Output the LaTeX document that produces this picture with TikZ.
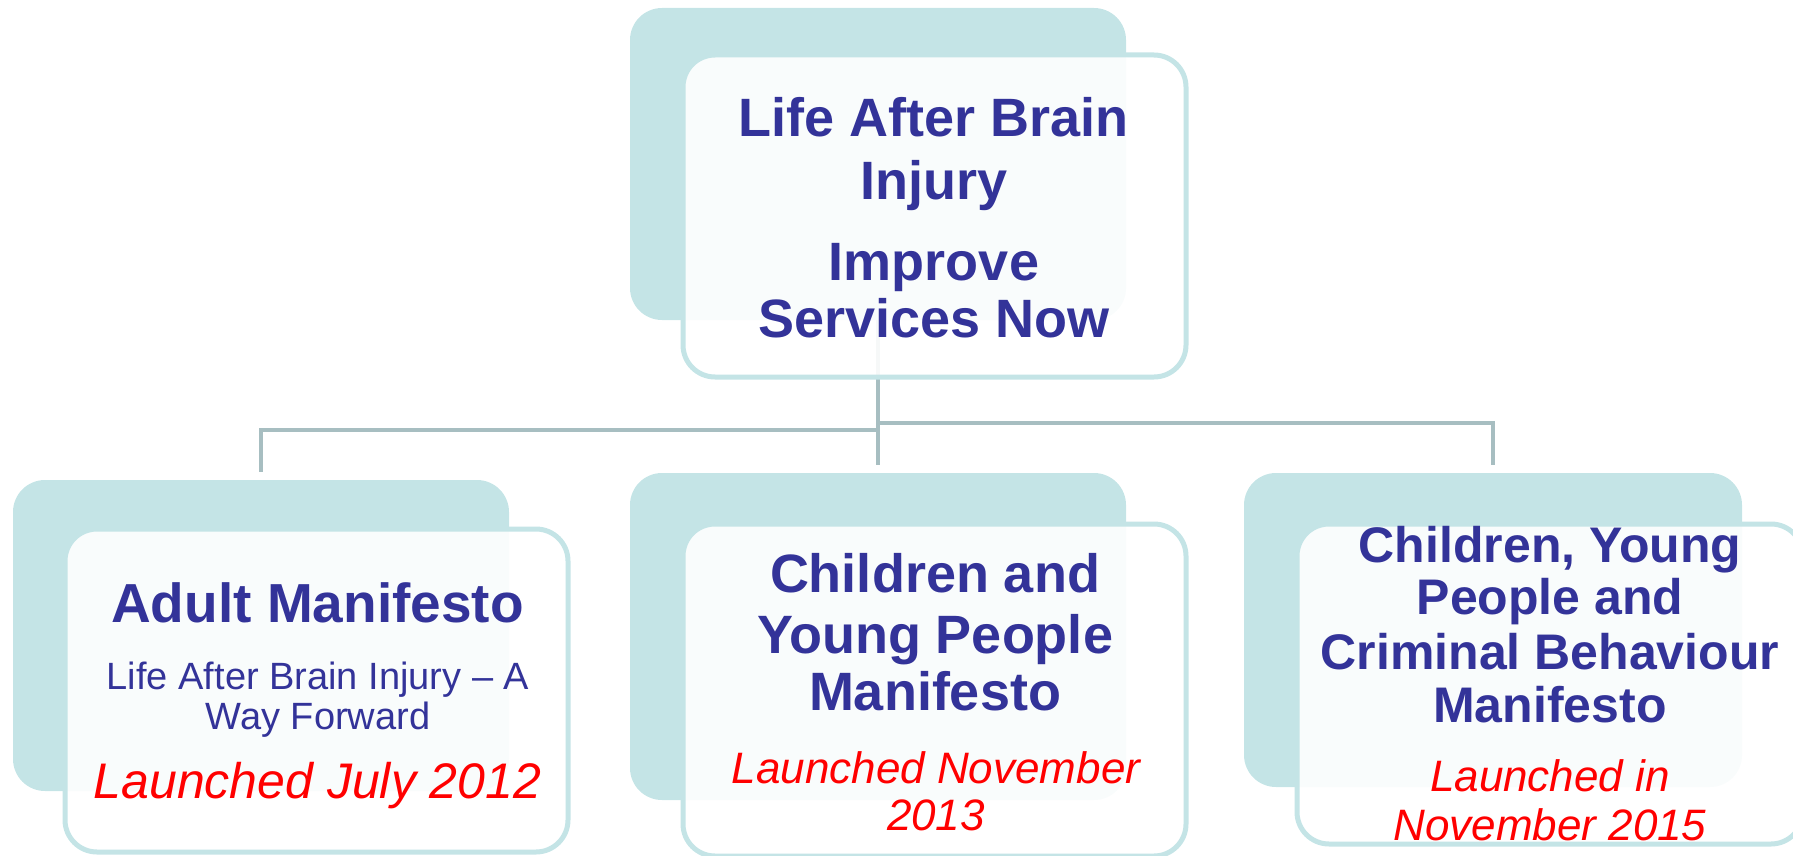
\documentclass[tikz,border=0pt]{standalone}
\usepackage{fontspec}
\setmainfont{Liberation Sans}
\definecolor{backteal}{HTML}{C4E4E6}
\definecolor{txtblue}{HTML}{333399}
\definecolor{connc}{HTML}{A7BEC1}
\definecolor{launchred}{HTML}{FF0000}
\begin{document}
\begin{tikzpicture}[x=1pt,y=-1pt,
  backbox/.style={draw=none,fill=backteal,rounded corners=32pt,inner sep=0pt},
  frontbox/.style={draw=backteal,line width=5pt,fill=white,fill opacity=0.9,rounded corners=32pt,inner sep=0pt},
  conn/.style={draw=connc,line width=4.5pt},
  ttl/.style={anchor=base,inner sep=0pt,text=txtblue,font=\fontsize{54}{60}\selectfont\bfseries},
  sub/.style={anchor=base,inner sep=0pt,text=txtblue,font=\fontsize{38}{44}\selectfont},
  lnch/.style={anchor=base,inner sep=0pt,text=launchred,font=\fontsize{44}{50}\selectfont\itshape}]
\useasboundingbox (0,0) rectangle (1793,856);
% boxes (back)
\node[backbox,minimum width=496pt,minimum height=312pt] (tb) at (878,164) {};
\node[backbox,minimum width=496pt,minimum height=311pt] (lb) at (261,635.5) {};
\node[backbox,minimum width=496pt,minimum height=327pt] (mb) at (878,636.5) {};
\node[backbox,minimum width=498pt,minimum height=314pt] (rb) at (1493,630) {};
% connectors
\coordinate (jl) at (878,430);
\coordinate (jr) at (878,423);
\draw[conn] (tb.south) -- ([yshift=8pt]mb.north);
\draw[conn] (jl) -| ([yshift=8pt]lb.north);
\draw[conn] (jr) -| ([yshift=8pt]rb.north);
% boxes (front)
\node[frontbox,minimum width=503pt,minimum height=322pt] (tf) at (934.5,216) {};
\node[frontbox,minimum width=503pt,minimum height=323pt] (lf) at (316.5,690.5) {};
\node[frontbox,minimum width=503pt,minimum height=332pt] (mf) at (934.5,690) {};
\node[frontbox,minimum width=506pt,minimum height=320pt] (rf) at (1550,684) {};
% top texts
\node[ttl] (t1) at (934,137) {Life After Brain};
\node[ttl] (t2) at (934,199) {Injury};
\node[ttl] (t3) at (934,280) {Improve};
\node[ttl] (t4) at (934,337) {Services Now};
% left texts
\node[ttl,font=\fontsize{55}{60}\selectfont\bfseries] (l1) at (317.5,622) {Adult Manifesto};
\node[sub] (l2) at (318,689) {Life After Brain Injury – A};
\node[sub] (l3) at (318,729) {Way Forward};
\node[lnch,font=\fontsize{50}{56}\selectfont\itshape] (l4) at (317.5,798) {Launched July 2012};
% middle texts
\node[ttl] (m1) at (935,592) {Children and};
\node[ttl] (m2) at (935,653) {Young People};
\node[ttl] (m3) at (935,710) {Manifesto};
\node[lnch] (m4) at (936,783) {Launched November};
\node[lnch] (m5) at (936,830) {2013};
% right texts
\node[ttl,font=\fontsize{50}{56}\selectfont\bfseries] (r1) at (1550,562) {Children, Young};
\node[ttl,font=\fontsize{50}{56}\selectfont\bfseries] (r2) at (1550,614) {People and};
\node[ttl,font=\fontsize{50}{56}\selectfont\bfseries] (r3) at (1550,669) {Criminal Behaviour};
\node[ttl,font=\fontsize{50}{56}\selectfont\bfseries] (r4) at (1550,722) {Manifesto};
\node[lnch] (r5) at (1550,791) {Launched in};
\node[lnch] (r6) at (1550,840) {November 2015};
\end{tikzpicture}
\end{document}
